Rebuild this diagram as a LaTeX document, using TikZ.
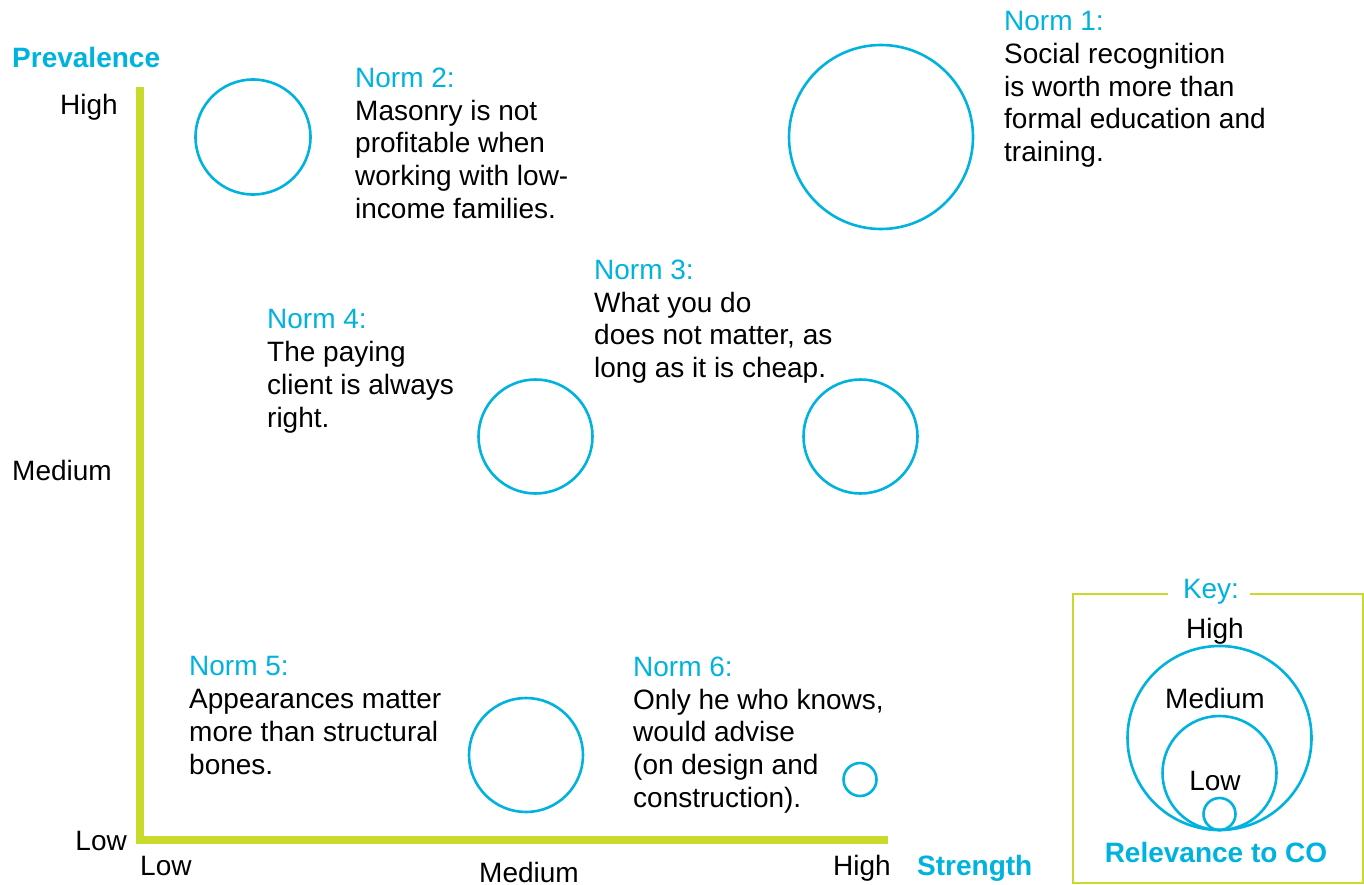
\documentclass[tikz,border=0pt]{standalone}
\usepackage{fontspec}
\setmainfont{Liberation Sans}
\definecolor{cy}{RGB}{0,178,222}
\definecolor{lime}{RGB}{200,218,43}
\tikzset{
  txt/.style={inner sep=0pt, font=\fontsize{28}{32.8}\selectfont, text=black},
  normtxt/.style={txt, align=left, anchor=north west},
  axlabel/.style={inner sep=0pt, font=\fontsize{28}{32.8}\selectfont\bfseries, text=cy},
  normcirc/.style={draw=cy, line width=2.6pt},
  axisline/.style={draw=lime, line width=8.5pt, line join=miter},
  keybox/.style={draw=lime, line width=2.2pt}
}
\begin{document}
\begin{tikzpicture}[x=1pt,y=-1pt]
\useasboundingbox (0,0) rectangle (1364,885);
% axes
\coordinate (ytop) at (139.75,87);
\coordinate (orig) at (139.75,840);
\coordinate (xend) at (888,840);
\draw[axisline] (ytop) -- (orig) -- (xend);
% axis labels
\node[axlabel, anchor=base west] (prev) at (12,68) {Prevalence};
\node[txt, anchor=base east] (yhigh) at (118,115) {High};
\node[txt, anchor=base west] (ymed) at (12,480) {Medium};
\node[txt, anchor=base east] (ylow) at (127,850) {Low};
\node[txt, anchor=base west] (xlow) at (140,875) {Low};
\node[txt, anchor=base] (xmed) at (529,882) {Medium};
\node[txt, anchor=base west] (xhigh) at (833,875) {High};
\node[axlabel, anchor=base west] (strength) at (917,875) {Strength};
% norm circles
\draw[normcirc] (881,137) circle[radius=92pt];
\draw[normcirc] (253,137) circle[radius=57.5pt];
\draw[normcirc] (535.5,436.5) circle[radius=57pt];
\draw[normcirc] (860.5,436.5) circle[radius=57pt];
\draw[normcirc] (526,755) circle[radius=57pt];
\draw[normcirc] (860,779.5) circle[radius=16.5pt];
% norm texts
\node[normtxt] (n1) at (1004,11) {\textcolor{cy}{Norm 1:}\\Social recognition\\is worth more than\\formal education and\\training.};
\node[normtxt] (n2) at (355,67.5) {\textcolor{cy}{Norm 2:}\\Masonry is not\\profitable when\\working with low-\\income families.};
\node[normtxt] (n3) at (594,259.5) {\textcolor{cy}{Norm 3:}\\What you do\\does not matter, as\\long as it is cheap.};
\node[normtxt] (n4) at (267,309.5) {\textcolor{cy}{Norm 4:}\\The paying\\client is always\\right.};
\node[normtxt] (n5) at (189,656.5) {\textcolor{cy}{Norm 5:}\\Appearances matter\\more than structural\\bones.};
\node[normtxt] (n6) at (633,656.5) {\textcolor{cy}{Norm 6:}\\Only he who knows,\\would advise\\(on design and\\construction).};
% key
\coordinate (kgl) at (1168,594);
\coordinate (kgr) at (1250,594);
\draw[keybox] (kgl) -- (1073,594) -- (1073,883) -- (1363,883) -- (1363,594) -- (kgr);
\node[txt, anchor=base, text=cy] (key) at (1211,598) {Key:};
\draw[normcirc] (1219.5,738) circle[radius=92pt];
\draw[normcirc] (1219.5,773) circle[radius=57pt];
\draw[normcirc] (1219.5,814) circle[radius=16pt];
\node[txt, anchor=base] (khigh) at (1215,638) {High};
\node[txt, anchor=base] (kmed) at (1215,708) {Medium};
\node[txt, anchor=base] (klow) at (1215,790) {Low};
\node[axlabel, anchor=base] (rel) at (1216,862) {Relevance to CO};
\end{tikzpicture}
\end{document}
